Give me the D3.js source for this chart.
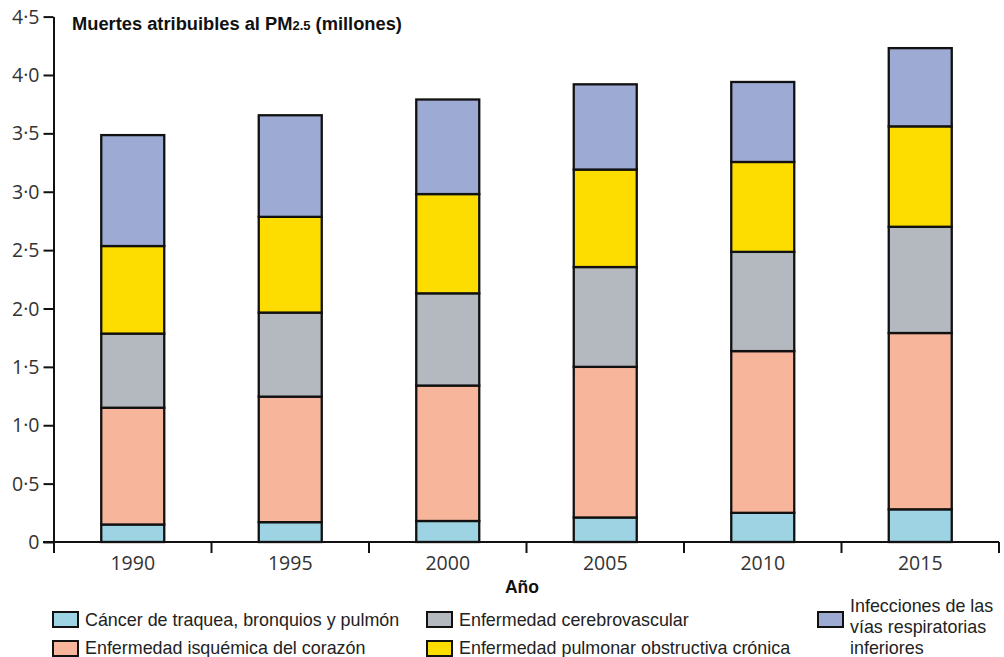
<!DOCTYPE html>
<html>
<head>
<meta charset="utf-8">
<script src="https://cdn.jsdelivr.net/npm/d3@7"></script>
<style>
  html, body { margin: 0; padding: 0; background: #fff; }
  svg { display: block; }
</style>
</head>
<body>
<svg id="chart" width="1004" height="657"></svg>
<script>
// ---- Data ----
const years = ["1990", "1995", "2000", "2005", "2010", "2015"];
const seriesNames = [
  "Cáncer de traquea, bronquios y pulmón",
  "Enfermedad isquémica del corazón",
  "Enfermedad cerebrovascular",
  "Enfermedad pulmonar obstructiva crónica",
  "Infecciones de las vías respiratorias inferiores"
];
const cancer   = [0.15, 0.17, 0.18, 0.21, 0.25, 0.28];
const ischemic = [1.00, 1.075, 1.16, 1.29, 1.385, 1.51];
const cerebro  = [0.635, 0.72, 0.79, 0.855, 0.85, 0.91];
const copd     = [0.75, 0.82, 0.85, 0.835, 0.77, 0.86];
const lri      = [0.95, 0.87, 0.81, 0.73, 0.685, 0.67];
const yTicks = [0, 0.5, 1.0, 1.5, 2.0, 2.5, 3.0, 3.5, 4.0, 4.5];
const colors = ["#9dd3e2", "#f7b69c", "#b3b9be", "#fddc00", "#9dabd4"];

// ---- Build table ----
const keys = ["cancer", "ischemic", "cerebro", "copd", "lri"];
const seriesArrays = [cancer, ischemic, cerebro, copd, lri];
const table = years.map((yr, i) => {
  const row = { year: yr };
  keys.forEach((k, j) => row[k] = seriesArrays[j][i]);
  return row;
});
const stacked = d3.stack().keys(keys)(table);

const svg = d3.select("#chart");
const font = "'Liberation Sans', Arial, sans-serif";
const tickFont = "'Open Sans', 'DejaVu Sans', sans-serif";

const x = d3.scaleBand().domain(years).range([54, 999]).paddingInner(0.6).paddingOuter(0.3);
const y = d3.scaleLinear().domain([0, 4.5]).range([542, 16.6]);

// Bars
const g = svg.append("g");
g.selectAll("g.series").data(stacked).enter().append("g")
  .attr("class", "series")
  .attr("fill", (d, i) => colors[i])
  .selectAll("rect").data(d => d).enter().append("rect")
  .attr("x", d => x(d.data.year))
  .attr("width", x.bandwidth())
  .attr("y", d => y(d[1]))
  .attr("height", d => y(d[0]) - y(d[1]))
  .attr("stroke", "#111")
  .attr("stroke-width", 2.3);

// Y axis
const yAxis = svg.append("g").attr("transform", "translate(53.5,0)")
  .call(d3.axisLeft(y).tickValues(yTicks).tickSize(10).tickSizeOuter(0)
    .tickFormat(d => d === 0 ? "0" : d.toFixed(1).replace(".", "·")));
yAxis.select(".domain").attr("stroke", "#111").attr("stroke-width", 2);
yAxis.selectAll(".tick line").attr("stroke", "#111").attr("stroke-width", 2);
yAxis.selectAll(".tick text").attr("font-family", tickFont).attr("font-size", 19.5)
  .attr("fill", "#333").attr("x", -14).attr("dy", "0.34em");

// X axis line
svg.append("line").attr("x1", 43).attr("x2", 999).attr("y1", 542).attr("y2", 542)
  .attr("stroke", "#111").attr("stroke-width", 2);
// X boundary ticks
const step = x.step();
const bounds = years.map(yr => x(yr) - step * x.paddingOuter()).concat([x(years[years.length - 1]) - step * x.paddingOuter() + step]);
svg.selectAll("line.xt").data(bounds).enter().append("line")
  .attr("class", "xt")
  .attr("x1", d => d).attr("x2", d => d)
  .attr("y1", 542).attr("y2", 553)
  .attr("stroke", "#111").attr("stroke-width", 2);
// X labels
const xAxis = svg.append("g").attr("transform", "translate(0,542)")
  .call(d3.axisBottom(x).tickSize(0));
xAxis.select(".domain").remove();
xAxis.selectAll(".tick text").attr("font-family", tickFont).attr("font-size", 19.5)
  .attr("fill", "#333").attr("dy", "0").attr("y", 28);

// Axis title
svg.append("text").attr("x", 522).attr("y", 593).attr("text-anchor", "middle")
  .attr("font-family", font).attr("font-weight", "bold").attr("font-size", 17.5)
  .attr("fill", "#111").text("Año");

// Chart title
const t = svg.append("text").attr("x", 72).attr("y", 30)
  .attr("font-family", font).attr("font-weight", "bold").attr("font-size", 18.3)
  .attr("fill", "#111");
t.append("tspan").text("Muertes atribuibles al PM");
t.append("tspan").attr("font-size", 13).text("2.5");
t.append("tspan").text(" (millones)");

// Legend
const legendItems = [
  { i: 0, x: 53, y: 612, lines: [seriesNames[0]], ty: [626] },
  { i: 1, x: 53, y: 641, lines: [seriesNames[1]], ty: [654] },
  { i: 2, x: 427, y: 612, lines: [seriesNames[2]], ty: [626] },
  { i: 3, x: 427, y: 641, lines: [seriesNames[3]], ty: [654] },
  { i: 4, x: 818, y: 612, lines: ["Infecciones de las", "vías respiratorias", "inferiores"], ty: [612, 633, 654] }
];
const lg = svg.append("g");
legendItems.forEach(it => {
  lg.append("rect").attr("x", it.x).attr("y", it.y).attr("width", 25).attr("height", 15)
    .attr("fill", colors[it.i]).attr("stroke", "#111").attr("stroke-width", 2);
  it.lines.forEach((ln, k) => {
    lg.append("text").attr("x", it.x + 32).attr("y", it.ty[k])
      .attr("font-family", font).attr("font-size", 17.9).attr("fill", "#222").text(ln);
  });
});
</script>
</body>
</html>
